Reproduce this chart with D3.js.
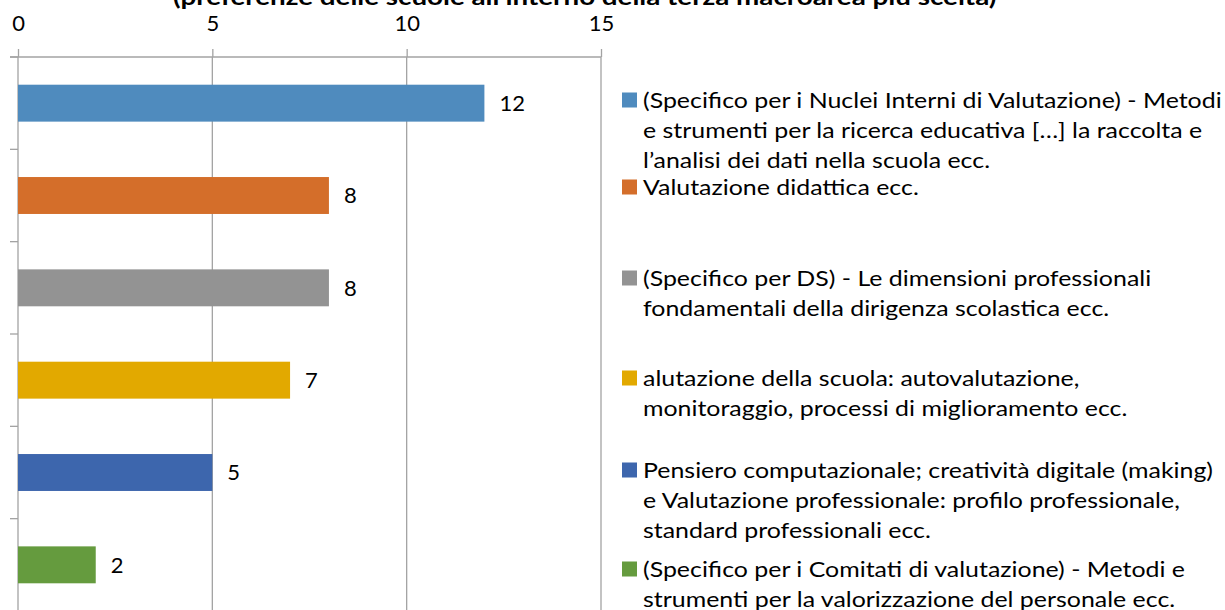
<!DOCTYPE html>
<html><head><meta charset="utf-8">
<script src="https://cdn.jsdelivr.net/npm/d3@7"></script>
<style>
html,body{margin:0;padding:0;background:#fff;}
svg text{font-family:Lato,"Open Sans",sans-serif;fill:#000;}
</style></head>
<body><svg id="c" width="1225" height="610"></svg>
<script>
// ---- data ----
const categories = ["NIV","Didattica","DS","Scuola","Pensiero","Comitati"];
const values = [12, 8, 8, 7, 5, 2];
const colors = ["#4F8BBE","#D46E2A","#939393","#E2A900","#3D66AD","#659B3E"];
const tickValues = [0, 5, 10, 15];
const legendLines = [
  ["(Specifico per i Nuclei Interni di Valutazione) - Metodi","e strumenti per la ricerca educativa […] la raccolta e","l’analisi dei dati nella scuola ecc."],
  ["Valutazione didattica ecc."],
  ["(Specifico per DS) - Le dimensioni professionali","fondamentali della dirigenza scolastica ecc."],
  ["alutazione della scuola: autovalutazione,","monitoraggio, processi di miglioramento ecc."],
  ["Pensiero computazionale; creatività digitale (making)","e Valutazione professionale: profilo professionale,","standard professionali ecc."],
  ["(Specifico per i Comitati di valutazione) - Metodi e","strumenti per la valorizzazione del personale ecc."]
];
const title = "(preferenze delle scuole all’interno della terza macroarea più scelta)";

(function(){
// ---- layout ----
const svg = d3.select("#c");
const pLeft = 18, pRight = 601, pTop = 57, pBottom = 611;
const gridColor = "#A3A3A3";
const fs = 22, lfs = 21;

const x = d3.scaleLinear().domain([0,15]).range([pLeft,pRight]);
const y = d3.scaleBand().domain(categories).range([pTop,pBottom]).paddingInner(0.6).paddingOuter(0.3);

// horizontal fit helper (text stays real text)
function fitX(sel, x0, y0, targetW){
  const w = sel.node().getComputedTextLength();
  const sx = targetW / w;
  sel.attr("x",0).attr("y",0).attr("transform",`translate(${x0},${y0}) scale(${sx},1)`);
  return sx;
}

// title (cut off at top)
const tt = svg.append("text").attr("text-anchor","start")
  .style("font-weight","bold").style("font-size","22px").text(title);
fitX(tt, 173, 5, 824);

// gridlines
svg.append("g").selectAll("line").data(tickValues.filter(d=>d>0)).join("line")
  .attr("x1",d=>x(d)).attr("x2",d=>x(d)).attr("y1",pTop).attr("y2",pBottom)
  .attr("stroke",gridColor).attr("stroke-width",1.3);

// top axis
const gx = svg.append("g").attr("transform",`translate(0,${pTop})`)
  .call(d3.axisTop(x).tickValues(tickValues).tickSize(8).tickPadding(18).tickSizeOuter(0));
gx.select(".domain").remove();
gx.selectAll(".tick line").attr("stroke",gridColor).attr("stroke-width",1.3);
gx.selectAll(".tick text").style("font-size",fs+"px").style("font-family","Lato").attr("fill","#000");
svg.append("line").attr("x1",10).attr("x2",pRight).attr("y1",pTop).attr("y2",pTop)
  .attr("stroke",gridColor).attr("stroke-width",1.3);

// left axis
const boundaries = categories.map(c=>y(c)-y.step()*y.paddingInner()/2).concat([pBottom]);
boundaries[0] = pTop;
svg.append("line").attr("x1",pLeft).attr("x2",pLeft).attr("y1",pTop).attr("y2",pBottom)
  .attr("stroke",gridColor).attr("stroke-width",1.3);
svg.append("g").selectAll("line").data(boundaries).join("line")
  .attr("x1",10).attr("x2",pLeft).attr("y1",d=>d).attr("y2",d=>d)
  .attr("stroke",gridColor).attr("stroke-width",1.3);

// bars
svg.append("g").selectAll("rect").data(values).join("rect")
  .attr("x",x(0)).attr("y",(d,i)=>y(categories[i]))
  .attr("width",d=>x(d)-x(0)).attr("height",y.bandwidth())
  .attr("fill",(d,i)=>colors[i]);

// value labels
svg.append("g").selectAll("text").data(values).join("text")
  .attr("x",d=>x(d)+15).attr("y",(d,i)=>y(categories[i])+y.bandwidth()/2)
  .attr("dy","0.36em").style("font-size",fs+"px").text(d=>d);

// legend
const legendTops = [100, 187, 278, 378, 470, 569];
const lh = 30;
const lg = svg.append("g");
// measure first line to get horizontal stretch
const probe = lg.append("text").style("font-size",lfs+"px").text(legendLines[0][0]);
const sx = 579 / probe.node().getComputedTextLength();
probe.remove();
legendLines.forEach((lines,i)=>{
  lg.append("rect").attr("x",622).attr("y",legendTops[i]-7.5).attr("width",15).attr("height",15).attr("fill",colors[i]);
  lines.forEach((t,j)=>{
    lg.append("text").attr("x",0).attr("y",0).attr("dy","0.36em")
      .attr("transform",`translate(643,${legendTops[i]+j*lh}) scale(${sx},1)`)
      .style("font-size",lfs+"px").text(t);
  });
});
})();
</script></body></html>
